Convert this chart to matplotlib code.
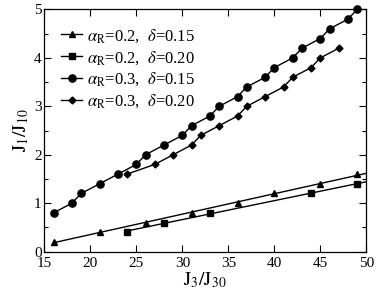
import numpy as np
import matplotlib
matplotlib.use('Agg')
import matplotlib.pyplot as plt
from matplotlib.ticker import MultipleLocator

plt.rcParams['font.family'] = ['Liberation Serif', 'DejaVu Serif']
plt.rcParams['mathtext.fontset'] = 'stix'

# alpha_R=0.2, delta=0.15 (triangles)
x_tri = [16, 21, 26, 31, 36, 40, 45, 49]
y_tri = [0.2, 0.4, 0.6, 0.8, 1.0, 1.2, 1.4, 1.6]

# alpha_R=0.2, delta=0.20 (squares)
x_sq = [24, 28, 33, 44, 49]
y_sq = [0.4, 0.6, 0.8, 1.2, 1.4]

# alpha_R=0.3, delta=0.15 (circles)
x_circ = [16, 18, 19, 21, 23, 25, 26, 28, 30, 31, 33, 34, 36, 37, 39, 40, 42, 43, 45, 46, 48, 49]
y_circ = [0.8, 1.0, 1.2, 1.4, 1.6, 1.8, 2.0, 2.2, 2.4, 2.6, 2.8, 3.0, 3.2, 3.4, 3.6, 3.8, 4.0, 4.2, 4.4, 4.6, 4.8, 5.0]

# alpha_R=0.3, delta=0.20 (diamonds)
x_dia = [24, 27, 29, 31, 32, 34, 36, 37, 39, 41, 42, 44, 45, 47]
y_dia = [1.6, 1.8, 2.0, 2.2, 2.4, 2.6, 2.8, 3.0, 3.2, 3.4, 3.6, 3.8, 4.0, 4.2]

labels = [r'$\alpha_{\rm R}$=0.2,  $\delta$=0.15',
          r'$\alpha_{\rm R}$=0.2,  $\delta$=0.20',
          r'$\alpha_{\rm R}$=0.3,  $\delta$=0.15',
          r'$\alpha_{\rm R}$=0.3,  $\delta$=0.20']

fig = plt.figure(figsize=(3.82, 2.96), dpi=100)
ax = fig.add_axes([0.116, 0.150, 0.843, 0.818])

lw = 1.0
# low-alpha series: markers with straight fit lines running to the right edge
for xs, ys, mk, ms, lab in [(x_tri, y_tri, '^', 5, labels[0]),
                            (x_sq, y_sq, 's', 4.5, labels[1])]:
    k, b = np.polyfit(xs, ys, 1)
    xf = np.array([xs[0], 51])
    ax.plot(xf, k * xf + b, color='black', lw=lw)
    ax.plot(xs, ys, marker=mk, ms=ms, color='black', lw=0)
    ax.plot([], [], marker=mk, ms=ms, color='black', lw=lw, label=lab)

ax.plot(x_circ, y_circ, marker='o', ms=5.2, color='black', lw=lw, label=labels[2], clip_on=False)
ax.plot(x_dia, y_dia, marker='D', ms=3.5, color='black', lw=lw, label=labels[3])

ax.set_xlim(15, 50)
ax.set_ylim(0, 5)
ax.xaxis.set_major_locator(MultipleLocator(5))
ax.yaxis.set_major_locator(MultipleLocator(1))
ax.yaxis.set_minor_locator(MultipleLocator(0.5))
ax.tick_params(which='both', direction='in', top=True, right=True, labelsize=11)
ax.tick_params(axis='x', pad=4)
ax.tick_params(axis='y', pad=2)
ax.tick_params(which='major', length=5, width=0.8)
ax.tick_params(which='minor', length=3, width=0.8)
for s in ax.spines.values():
    s.set_linewidth(0.9)

ax.set_xlabel(r'$\mathrm{J_3/J_{30}}$', fontsize=14, labelpad=0)
ax.set_ylabel(r'$\mathrm{J_1/J_{10}}$', fontsize=14, labelpad=2)

ax.legend(loc='upper left', bbox_to_anchor=(0.02, 0.97), frameon=False, fontsize=12,
          handlelength=1.3, handletextpad=0.3, labelspacing=0.25, borderaxespad=0.2)

plt.savefig('out.png', dpi=100)
plt.close()
